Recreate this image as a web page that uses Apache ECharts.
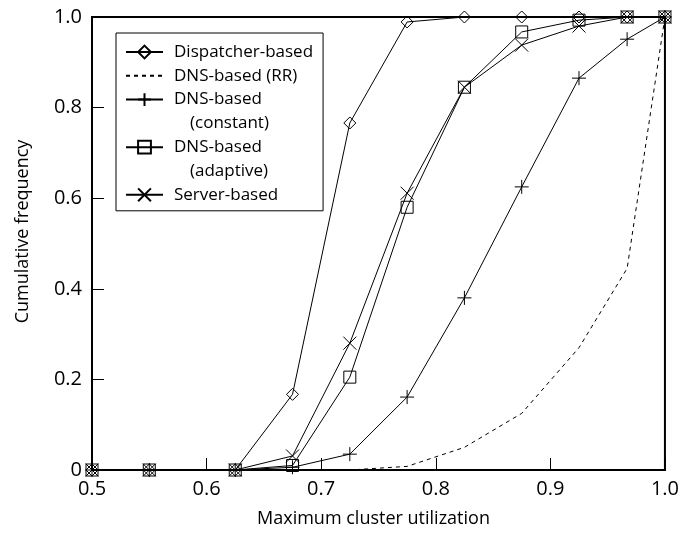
<!DOCTYPE html>
<html>
<head>
<meta charset="utf-8">
<script src="https://cdn.jsdelivr.net/npm/echarts@6/dist/echarts.min.js"></script>
<style>
html, body { margin: 0; padding: 0; background: #fff; }
#chart { width: 682px; height: 533px; }
</style>
</head>
<body>
<div id="chart"></div>
<script>
// x positions of the measured points
const utilization = [0.5, 0.55, 0.625, 0.675, 0.725, 0.775, 0.825, 0.875, 0.925, 0.967, 1.0];
// cumulative frequency per scheme
const dispatcherBased = [0, 0, 0, 0.167, 0.766, 0.989, 1.0, 1.0, 1.0, 1.0, 1.0];
const dnsRR = [0, 0, 0, 0, 0, 0.008, 0.05, 0.125, 0.27, 0.445, 1.0];
const dnsConstant = [0, 0, 0, 0.006, 0.035, 0.161, 0.38, 0.625, 0.865, 0.951, 1.0];
const dnsAdaptive = [0, 0, 0, 0.01, 0.205, 0.58, 0.845, 0.967, 0.993, 1.0, 1.0];
const serverBased = [0, 0, 0, 0.031, 0.28, 0.611, 0.845, 0.938, 0.98, 1.0, 1.0];

const xTicks = [0.5, 0.6, 0.7, 0.8, 0.9, 1.0];

const font = 'Open Sans';
const plusPath = 'path://M5,0L5,10M0,5L10,5';
const crossPath = 'path://M0,0L10,10M10,0L0,10';

function pairs(ys) {
  return utilization.map((x, i) => [x, ys[i]]);
}

function lineSeries(name, ys, symbol, size, dashed) {
  return {
    name: name,
    type: 'line',
    data: pairs(ys),
    symbol: symbol,
    symbolSize: size,
    showSymbol: symbol !== 'none',
    lineStyle: { color: '#000', width: 1, type: dashed ? [4, 4] : 'solid' },
    itemStyle: dashed
      ? { color: 'rgba(0,0,0,0)', borderWidth: 0 }
      : { color: 'rgba(0,0,0,0)', borderColor: '#000', borderWidth: 1 },
    emphasis: { disabled: true },
    animation: false
  };
}

const labelNames = {
  'DNS-based (constant)': 'DNS-based',
  'cLabel': '(constant)',
  'DNS-based (adaptive)': 'DNS-based',
  'aLabel': '(adaptive)'
};

const chart = echarts.init(document.getElementById('chart'));
chart.setOption({
  backgroundColor: '#fff',
  animation: false,
  grid: {
    left: 92, right: 14, top: 17, bottom: 62,
    show: true, borderColor: '#000', borderWidth: 2, backgroundColor: 'transparent'
  },
  legend: {
    orient: 'vertical',
    left: 116,
    top: 33,
    itemWidth: 37,
    itemHeight: 16,
    itemGap: 3.8,
    padding: [9, 10, 6, 9],
    borderColor: '#000',
    borderWidth: 1,
    backgroundColor: '#fff',
    selectedMode: false,
    textStyle: { fontFamily: font, fontSize: 17, color: '#000', lineHeight: 20, padding: [0, 0, 0, 6] },
    formatter: name => labelNames[name] || name,
    data: [
      { name: 'Dispatcher-based' },
      { name: 'DNS-based (RR)' },
      { name: 'DNS-based (constant)' },
      { name: 'cLabel', icon: 'none', textStyle: { padding: [0, 0, 0, 22] } },
      { name: 'DNS-based (adaptive)' },
      { name: 'aLabel', icon: 'none', textStyle: { padding: [0, 0, 0, 22] } },
      { name: 'Server-based' }
    ]
  },
  xAxis: {
    type: 'value',
    min: 0.5,
    max: 1.0,
    interval: 0.1,
    name: 'Maximum cluster utilization',
    nameLocation: 'middle',
    nameGap: 40,
    nameTextStyle: { fontFamily: font, fontSize: 18, color: '#000', padding: [0, 10, 0, 0] },
    axisLine: { lineStyle: { color: '#000', width: 2 } },
    axisTick: { inside: true, length: 12, lineStyle: { color: '#000', width: 1 } },
    axisLabel: {
      fontFamily: font, fontSize: 20, color: '#000', margin: 9,
      formatter: v => xTicks.some(t => Math.abs(t - v) < 1e-9) ? v.toFixed(1) : ''
    },
    splitLine: { show: false }
  },
  yAxis: {
    type: 'value',
    min: 0,
    max: 1,
    interval: 0.2,
    name: 'Cumulative frequency',
    nameLocation: 'middle',
    nameGap: 60,
    nameTextStyle: { fontFamily: font, fontSize: 18, color: '#000', padding: [0, 0, 0, 24] },
    axisLine: { lineStyle: { color: '#000', width: 2 } },
    axisTick: { inside: true, length: 12, lineStyle: { color: '#000', width: 1 } },
    axisLabel: {
      fontFamily: font, fontSize: 20, color: '#000', margin: 10,
      formatter: v => v === 0 ? '0' : v.toFixed(1)
    },
    splitLine: { show: false }
  },
  series: [
    lineSeries('DNS-based (RR)', dnsRR, 'none', 0, true),
    lineSeries('DNS-based (constant)', dnsConstant, plusPath, 14, false),
    lineSeries('Server-based', serverBased, crossPath, 13, false),
    lineSeries('DNS-based (adaptive)', dnsAdaptive, 'rect', 12, false),
    lineSeries('Dispatcher-based', dispatcherBased, 'diamond', 12, false),
    { name: 'cLabel', type: 'line', data: [] },
    { name: 'aLabel', type: 'line', data: [] }
  ]
});
</script>
</body>
</html>
